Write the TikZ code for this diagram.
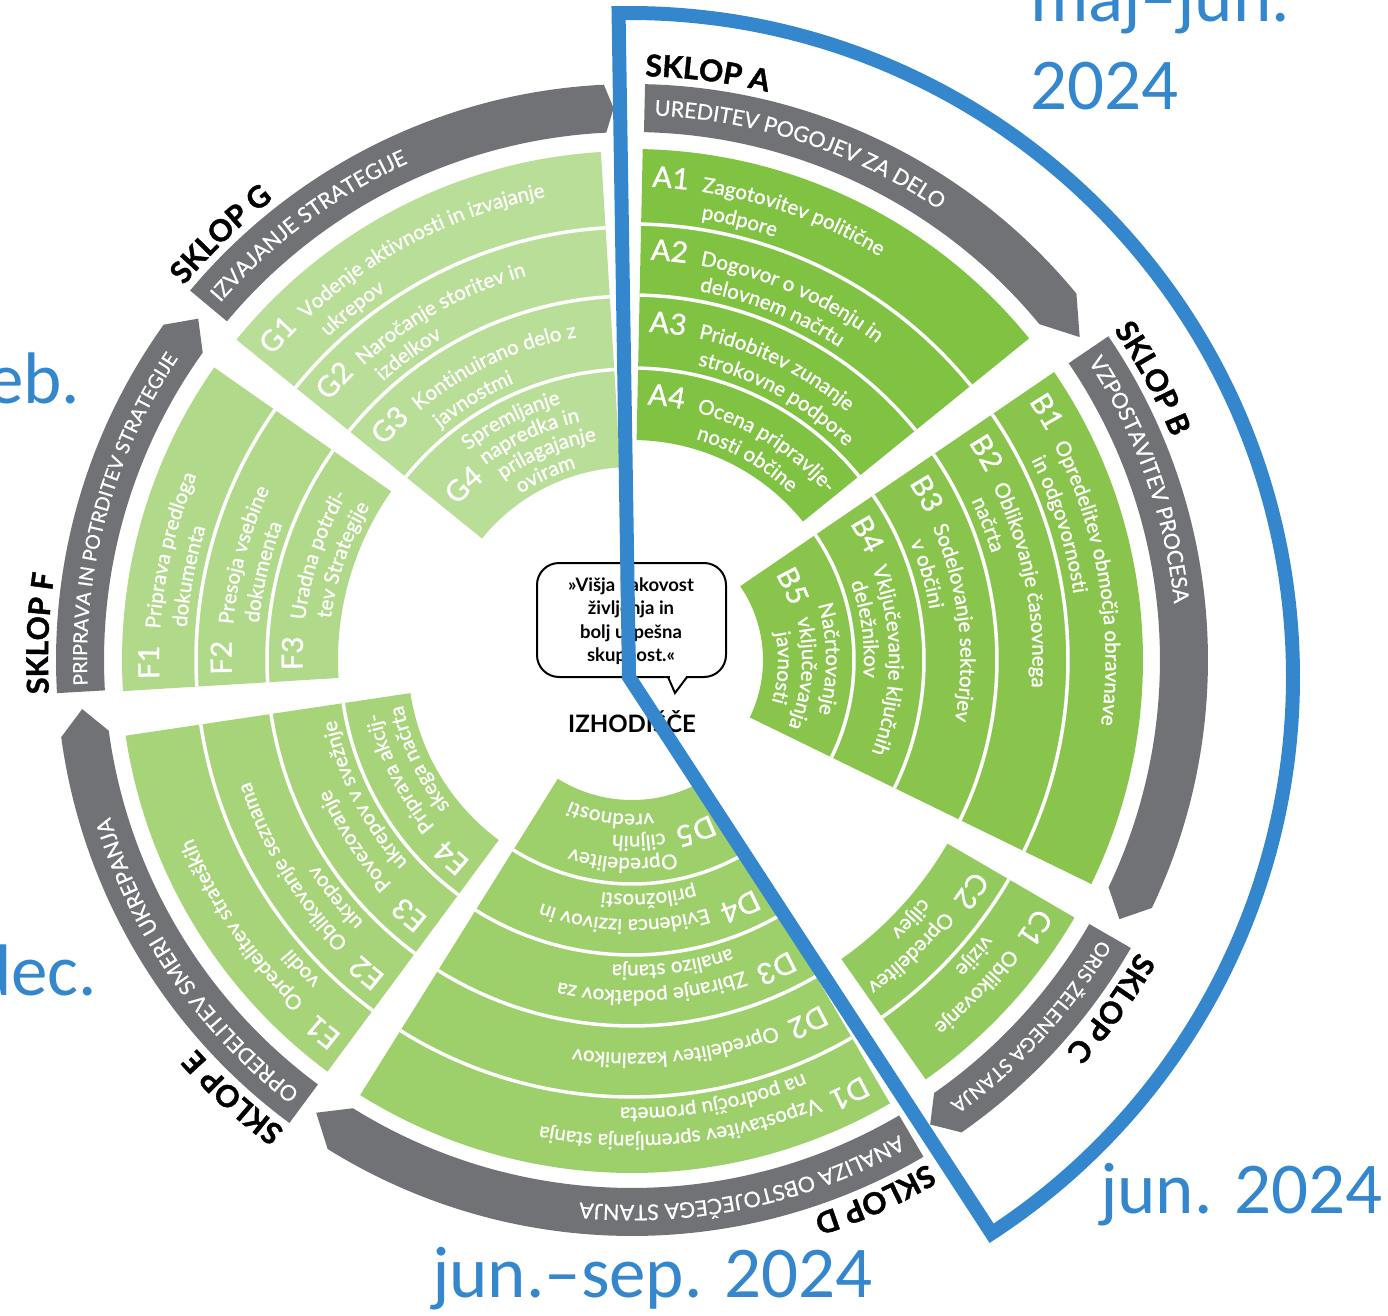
\documentclass[tikz,border=0pt]{standalone}
\usepackage{fontspec}
\usetikzlibrary{decorations.text}
\newfontfamily\lato{Lato}
\newfontfamily\latom{Lato}[FakeBold=1.1]
\newfontfamily\latog{Lato}[FakeBold=0.6]
\newfontfamily\latok{Lato}[BoldFeatures={FakeBold=1.4}]
\newfontfamily\carl{Carlito}
\definecolor{gA}{RGB}{128,194,65}
\definecolor{gB}{RGB}{137,197,76}
\definecolor{gC}{RGB}{147,202,94}
\definecolor{gD}{RGB}{157,207,106}
\definecolor{gE}{RGB}{167,212,121}
\definecolor{gF}{RGB}{176,217,137}
\definecolor{gG}{RGB}{185,222,151}
\definecolor{gbar}{RGB}{113,114,118}
\definecolor{bl}{RGB}{52,135,205}
\newcommand\labf{\latom\fontsize{29}{31}\selectfont\color{white}}
\newcommand\bodyf{\latom\fontsize{20.5}{23}\selectfont\color{white}}
\newcommand\barf{\latog\fontsize{21.5}{24}\selectfont\color{white}}
\newcommand\barfs{\latog\fontsize{19.5}{22}\selectfont\color{white}}
\newcommand\sklf{\latok\bfseries\fontsize{30}{32}\selectfont\color{black}}
% annular sector: start angle, end angle, inner r, outer r, colour
\newcommand\annsec[5]{\fill[#5] (#1:#4) arc[start angle=#1,end angle=#2,radius=#4] -- (#2:#3) arc[start angle=#2,end angle=#1,radius=#3] -- cycle;}
% white ring separator
\newcommand\sepr[3]{\draw[white,line width=3.5pt] (#1:#3) arc[start angle=#1,end angle=#2,radius=#3];}
% grey arrow band: trailing angle, leading angle, tip angle
\newcommand\garrow[3]{\fill[gbar] (#1:576) arc[start angle=#1,end angle=#2,radius=576] -- (#3:552) -- (#2:528) arc[start angle=#2,end angle=#1,radius=528] -- cycle;}
% text along a clockwise arc: edge angle, offset (px), radius, text
\newcommand\arctxt[4]{\pgfmathsetmacro\sa{#1-#2*57.29578/#3}\pgfmathsetmacro\ea{\sa-115}%
\path[decorate,decoration={text along path,text={#4}}] (\sa:#3) arc[start angle=\sa,end angle=\ea,radius=#3];}
\newcommand\lab[3]{\arctxt{#1}{10}{#2}{|\labf|#3}}
\newcommand\lin[3]{\arctxt{#1}{60}{#2}{|\bodyf|#3}}
\begin{document}
\begin{tikzpicture}[x=1pt,y=1pt]
\useasboundingbox (-632,-655) rectangle (756,660);
\clip (-632,-655) rectangle (756,660);
% ---------- green sectors ----------
\annsec{88.8}{39}{220}{511}{gA}
\annsec{34.3}{-26}{131}{511}{gB}
\annsec{-30.2}{-55}{365}{512}{gC}
\annsec{300.2}{238}{140}{513}{gD}
\annsec{233.5}{188.5}{224}{512}{gE}
\annsec{183.5}{145}{294}{510}{gF}
\annsec{141}{93.5}{193}{509}{gG}
% ---------- separators ----------
\sepr{88.8}{39}{436}\sepr{88.8}{39}{365}\sepr{88.8}{39}{292}
\sepr{34.3}{-26}{436}\sepr{34.3}{-26}{365}\sepr{34.3}{-26}{292}\sepr{34.3}{-26}{222}
\sepr{-30.2}{-55}{436}
\sepr{300.2}{238}{437}\sepr{300.2}{238}{366}\sepr{300.2}{238}{295}\sepr{300.2}{238}{224}
\sepr{233.5}{188.5}{436}\sepr{233.5}{188.5}{365}\sepr{233.5}{188.5}{292}
\sepr{183.5}{145}{436}\sepr{183.5}{145}{365}
\sepr{141}{93.5}{433}\sepr{141}{93.5}{364}\sepr{141}{93.5}{291}
% ---------- grey bands ----------
\garrow{88.7}{39.5}{35.8}
\garrow{34.2}{-25.5}{-28}
\garrow{-30}{-55.1}{-57.3}
\garrow{300.4}{238.1}{235.1}
\garrow{233.5}{187.7}{185.1}
\garrow{183.3}{144.4}{141.8}
\garrow{140.1}{92.8}{91.9}
% ---------- grey band texts ----------
\arctxt{88.7}{10}{545}{|\barf|UREDITEV POGOJEV ZA DELO}
\arctxt{34.2}{10}{545}{|\barf|VZPOSTAVITEV PROCESA}
\arctxt{-30}{8}{545}{|\barfs|ORIS ŽELENEGA STANJA}
\arctxt{300.4}{10}{545}{|\barf|ANALIZA OBSTOJEČEGA STANJA}
\arctxt{233.5}{10}{545}{|\barf|OPREDELITEV SMERI UKREPANJA}
\arctxt{183.3}{6}{545}{|\barfs|PRIPRAVA IN POTRDITEV STRATEGIJE}
\arctxt{140.1}{10}{545}{|\barf|IZVAJANJE STRATEGIJE}
% ---------- SKLOP labels ----------
\arctxt{88.7}{0}{584}{|\sklf|SKLOP A}
\arctxt{34.4}{0}{584}{|\sklf|SKLOP B}
\arctxt{-30}{0}{584}{|\sklf|SKLOP C}
\arctxt{300.4}{0}{584}{|\sklf|SKLOP D}
\arctxt{233.5}{0}{584}{|\sklf|SKLOP E}
\arctxt{183.3}{0}{584}{|\sklf|SKLOP F}
\arctxt{140.1}{0}{584}{|\sklf|SKLOP G}
% ---------- sector A ----------
\lab{88.8}{473.5}{A1}\lin{88.8}{473.5}{Zagotovitev politične}\lin{88.8}{446.5}{podpore}
\lab{88.8}{400.5}{A2}\lin{88.8}{400.5}{Dogovor o vodenju in}\lin{88.8}{375}{delovnem načrtu}
\lab{88.8}{328.5}{A3}\lin{88.8}{328.5}{Pridobitev zunanje}\lin{88.8}{302}{strokovne podpore}
\lab{88.8}{256}{A4}\lin{88.8}{256}{Ocena pripravlje-}\lin{88.8}{230}{nosti občine}
% ---------- sector B ----------
\lab{34.3}{473.5}{B1}\lin{34.3}{473.5}{Opredelitev območja obravnave}\lin{34.3}{446.5}{in odgovornosti}
\lab{34.3}{400.5}{B2}\lin{34.3}{400.5}{Oblikovanje časovnega}\lin{34.3}{375}{načrta}
\lab{34.3}{328.5}{B3}\lin{34.3}{328.5}{Sodelovanje sektorjev}\lin{34.3}{302}{v občini}
\lab{34.3}{257}{B4}\lin{34.3}{257}{Vključevanje ključnih}\lin{34.3}{232}{deležnikov}
\lab{34.3}{167}{B5}\lin{34.3}{194}{Načrtovanje}\lin{34.3}{170}{vključevanja}\lin{34.3}{146}{javnosti}
% ---------- sector C ----------
\lab{-30.2}{474}{C1}\lin{-30.2}{474}{Oblikovanje}\lin{-30.2}{446.6}{vizije}
\lab{-30.2}{400.5}{C2}\lin{-30.2}{400.5}{Opredelitev}\lin{-30.2}{375}{ciljev}
% ---------- sector D ----------
\lab{300.2}{475}{D1}\lin{300.2}{475}{Vzpostavitev spremljanja stanja}\lin{300.2}{447.6}{na področju prometa}
\lab{300.2}{393}{D2}\lin{300.2}{393}{Opredelitev kazalnikov}
\lab{300.2}{330.5}{D3}\lin{300.2}{330.5}{Zbiranje podatkov za}\lin{300.2}{305}{analizo stanja}
\lab{300.2}{259.5}{D4}\lin{300.2}{259.5}{Evidenca izzivov in}\lin{300.2}{234}{priložnosti}
\lab{300.2}{173}{D5}\lin{300.2}{198}{Opredelitev}\lin{300.2}{176}{ciljnih}\lin{300.2}{154}{vrednosti}
% ---------- sector E ----------
\lab{233.5}{474}{E1}\lin{233.5}{474}{Opredelitev strateških}\lin{233.5}{446.6}{vodil}
\lab{233.5}{400.5}{E2}\lin{233.5}{400.5}{Oblikovanje seznama}\lin{233.5}{375}{ukrepov}
\lab{233.5}{328.5}{E3}\lin{233.5}{328.5}{Povezovanje}\lin{233.5}{302}{ukrepov v svežnje}
\lab{233.5}{258}{E4}\lin{233.5}{258}{Priprava akcij-}\lin{233.5}{233.5}{skega načrta}
% ---------- sector F ----------
\lab{183.5}{473}{F1}\lin{183.5}{473}{Priprava predloga}\lin{183.5}{446.4}{dokumenta}
\lab{183.5}{400.5}{F2}\lin{183.5}{400.5}{Presoja vsebine}\lin{183.5}{375}{dokumenta}
\lab{183.5}{329.5}{F3}\lin{183.5}{329.5}{Uradna potrdi-}\lin{183.5}{304}{tev Strategije}
% ---------- sector G ----------
\lab{141}{471}{G1}\lin{141}{471}{Vodenje aktivnosti in izvajanje}\lin{141}{443.6}{ukrepov}
\lab{141}{398.5}{G2}\lin{141}{398.5}{Naročanje storitev in}\lin{141}{373.7}{izdelkov}
\lab{141}{327.5}{G3}\lin{141}{327.5}{Kontinuirano delo z}\lin{141}{301}{javnostmi}
\lab{141}{233}{G4}\lin{141}{266}{Spremljanje}\lin{141}{244}{napredka in}\lin{141}{222}{prilagajanje}\lin{141}{200}{oviram}
% ---------- centre bubble ----------
\draw[line width=2pt,fill=white,rounded corners=22pt] (-95,-17) rectangle (94,97);
\fill[white] (37.5,-15) rectangle (53.5,-19.5);
\draw[line width=2pt,line join=miter] (36,-17) -- (43,-33) -- (55,-17);
\node[align=center,font=\lato\bfseries\fontsize{18.5}{23.5}\selectfont,inner sep=0] (quote) at (-1,39) {»Višja kakovost\\življenja in\\bolj uspešna\\skupnost.«};
\node[font=\lato\bfseries\fontsize{24}{27}\selectfont,inner sep=0] (izh) at (0,-62) {IZHODIŠČE};
% ---------- blue outline ----------
\coordinate (bapex) at (-3,-17);
\draw[bl,line width=14pt,line join=miter] (bapex) -- ++(90.9:664) arc[start angle=90.9,end angle=-56.9,radius=664] -- cycle;
% ---------- blue texts ----------
\begin{scope}[every node/.style={bl,anchor=base west,inner sep=0,font=\carl\fontsize{73}{80}\selectfont}]
\node (t1) at (398,638) {maj–jun.};
\node (t2) at (398,550) {2024};
\node (t3) at (468,-553) {jun. 2024};
\node (t4) at (-200,-637) {jun.–sep. 2024};
\node (t5) at (-645,257) {eb.};
\node (t6) at (-659,-335) {dec.};
\end{scope}
\end{tikzpicture}
\end{document}
